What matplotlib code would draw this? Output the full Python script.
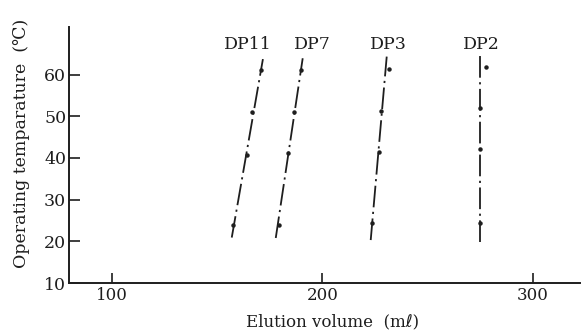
import matplotlib
matplotlib.use("Agg")
import matplotlib.pyplot as plt

# ---- data ----
series = ["DP11", "DP7", "DP3", "DP2"]
dp11_vol = [170.8, 166.6, 164.0, 157.6]
dp11_temp = [61.1, 50.9, 40.7, 23.8]
dp7_vol = [189.8, 186.3, 183.8, 179.3]
dp7_temp = [61.2, 50.9, 41.1, 24.0]
dp3_vol = [231.6, 227.8, 226.8, 223.7]
dp3_temp = [61.3, 51.3, 41.4, 24.3]
dp2_vol = [277.6, 274.8, 274.8, 274.8]
dp2_temp = [61.8, 51.9, 42.1, 24.3]
# fitted line ends (volume at low / high temperature)
line_vol_low = [156.9, 177.8, 222.9, 274.8]
line_temp_low = [20.9, 20.8, 20.3, 19.9]
line_vol_high = [171.7, 190.6, 230.5, 274.8]
line_temp_high = [63.7, 63.9, 64.3, 64.7]
label_vol = [164.6, 195.0, 231.1, 275.3]

x_ticks = [100, 200, 300]
y_ticks = [10, 20, 30, 40, 50, 60]

plt.rcParams['font.family'] = ['DejaVu Serif', 'DejaVu Sans']

fig = plt.figure(figsize=(5.82, 3.33), dpi=100)
ax = fig.add_axes([69/582, 50/333, 511/582, 256/333])

ink = "#1e1e1e"
vols = [dp11_vol, dp7_vol, dp3_vol, dp2_vol]
temps = [dp11_temp, dp7_temp, dp3_temp, dp2_temp]
for i, name in enumerate(series):
    ax.plot([line_vol_low[i], line_vol_high[i]], [line_temp_low[i], line_temp_high[i]],
            color=ink, lw=1.3, linestyle=(0, (12, 2.5, 1.2, 2.5)), solid_capstyle='butt')
    ax.plot(vols[i], temps[i], linestyle='none', marker='o', ms=2.2, color=ink)
    ax.text(label_vol[i], 67.1, name, ha='center', va='center', fontsize=12.5, color=ink)

ax.set_xlim(79.6, 322.3)
ax.set_ylim(10, 71.4)
ax.set_xticks(x_ticks)
ax.set_yticks(y_ticks)
ax.spines['top'].set_visible(False)
ax.spines['right'].set_visible(False)
for s in ['left', 'bottom']:
    ax.spines[s].set_linewidth(1.4)
    ax.spines[s].set_color(ink)
ax.tick_params(axis='x', direction='in', length=7.5, width=1.2, labelsize=12, pad=3, colors=ink)
ax.tick_params(axis='y', direction='in', length=8, width=1.2, labelsize=12.5, pad=2, colors=ink)

fig.text(333/582, 1 - 322/333, "Elution volume  (mℓ)", ha='center', va='center', fontsize=12, color=ink)
fig.text(22/582, 1 - 143/333, "Operating temparature  (℃)", ha='center', va='center',
         rotation=90, fontsize=12.5, color=ink)

fig.savefig("out.png", dpi=100)
